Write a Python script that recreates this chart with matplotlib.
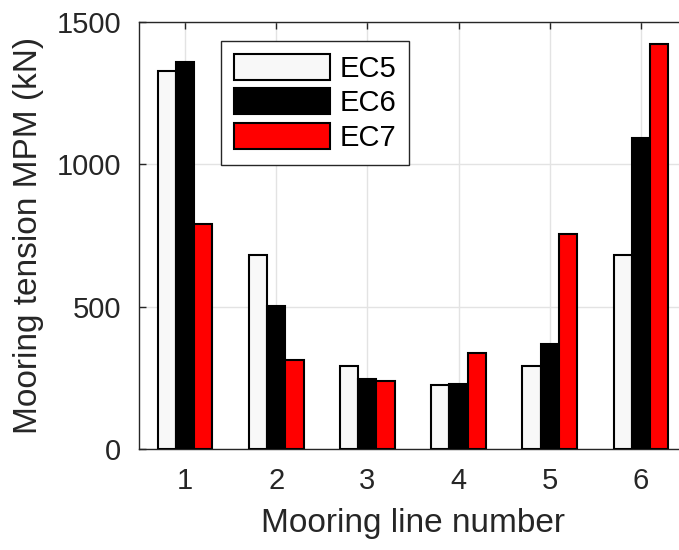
import numpy as np
import matplotlib
matplotlib.use("Agg")
import matplotlib.pyplot as plt

# mooring tension MPM (kN) per mooring line
lines = [1, 2, 3, 4, 5, 6]
ec5 = [1329, 681, 291, 224, 292, 682]
ec6 = [1359, 504, 248, 228, 368, 1092]
ec7 = [791, 313, 240, 337, 754, 1423]
series_names = ["EC5", "EC6", "EC7"]
series_colors = ["#f8f8f8", "black", "red"]

plt.rcParams["font.family"] = ["Liberation Sans", "DejaVu Sans"]
TXT = "#262626"

fig = plt.figure(figsize=(6.79, 5.5), dpi=100)
# right edge of the box falls outside the picture, as in the original
ax = fig.add_axes([0.2052, 0.1833, 0.806, 0.7767])

x = np.array(lines, dtype=float)
w = 0.2
for i, (vals, name, col) in enumerate(zip([ec5, ec6, ec7], series_names, series_colors)):
    ax.bar(x + (i - 1) * w, vals, width=w, color=col, edgecolor="black",
           linewidth=1.5, label=name, zorder=3)

ax.set_xlim(0.5, 6.5)
ax.set_ylim(0, 1500)
ax.set_xticks(lines)
ax.set_yticks([0, 500, 1000, 1500])
ax.grid(True, color="#e3e3e3", linewidth=1, zorder=0)
ax.set_axisbelow(True)

for s in ax.spines.values():
    s.set_color(TXT)
    s.set_linewidth(1)
ax.tick_params(axis="both", direction="in", length=5, width=1, color=TXT,
               labelcolor=TXT, labelsize=21, top=True, right=True)
ax.tick_params(axis="x", pad=13)
ax.tick_params(axis="y", pad=13)

ax.set_xlabel("Mooring line number", fontsize=24, color=TXT, labelpad=9)
ax.set_ylabel("Mooring tension MPM (kN)", fontsize=24, color=TXT, labelpad=9)

leg = ax.legend(loc="upper left", bbox_to_anchor=(0.1487, 0.956), borderaxespad=0,
                fontsize=21, handlelength=3.3, handleheight=1.0, handletextpad=0.32,
                labelspacing=0.18, borderpad=0.45, fancybox=False, framealpha=1)
leg.get_frame().set_edgecolor(TXT)
leg.get_frame().set_linewidth(1)
for t in leg.get_texts():
    t.set_color("black")

fig.savefig("out.png", dpi=100)
